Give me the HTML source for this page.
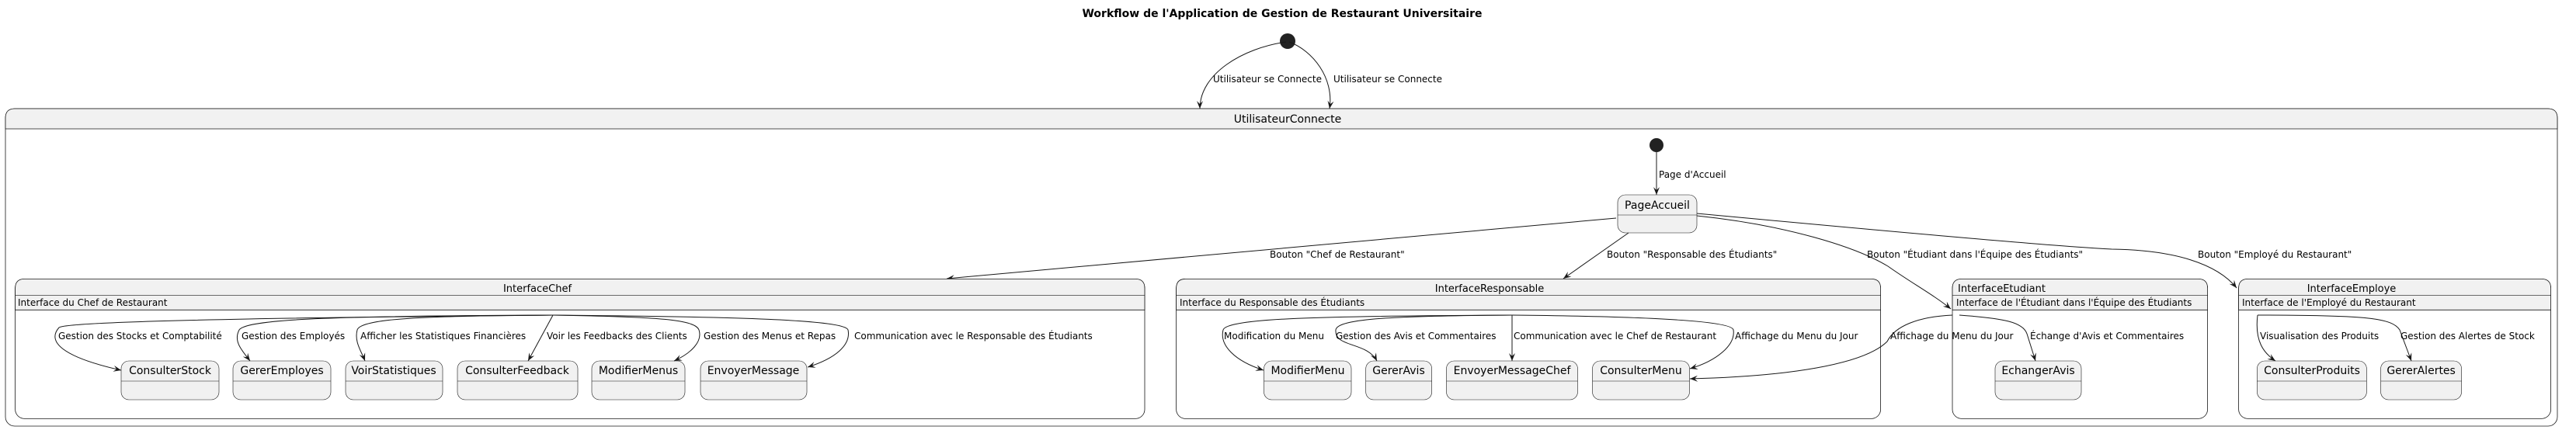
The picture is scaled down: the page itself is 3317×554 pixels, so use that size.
<!DOCTYPE html>
<html><head><meta charset="utf-8"><style>
html,body{margin:0;padding:0;background:#fff;}
svg{display:block;font-family:"DejaVu Sans","Liberation Sans",sans-serif;}
.st{fill:#F1F1F1;stroke:#181818;stroke-width:0.6;}
.ln{stroke:#181818;stroke-width:0.6;fill:none;}
.e{stroke:#181818;stroke-width:1;fill:none;marker-end:url(#ar);}
.lb{font-size:12px;fill:#000;}
.sn{font-size:14px;fill:#000;text-anchor:middle;}
</style></head><body>
<svg width="3317" height="554" viewBox="0 0 3317 554" xmlns="http://www.w3.org/2000/svg">
<defs><marker id="ar" markerWidth="12" markerHeight="10" refX="10" refY="4" orient="auto" markerUnits="userSpaceOnUse"><path d="M0,0 L10,4 L0,8 L4,4 Z" fill="#181818"/></marker></defs>

<text x="1651" y="22" text-anchor="middle" font-size="14" font-weight="bold">Workflow de l'Application de Gestion de Restaurant Universitaire</text>

<circle cx="1658" cy="53" r="10" fill="#222"/>
<path class="e" d="M1656,54 C1600,62 1545,95 1545,140"/>
<path class="e" d="M1660,54 C1690,65 1718,100 1712,140"/>
<text class="lb" x="1562" y="106">Utilisateur se Connecte</text>
<text class="lb" x="1717" y="106">Utilisateur se Connecte</text>

<!-- outer -->
<rect x="7" y="140" width="3286" height="409" rx="12" fill="#fff" stroke="#181818" stroke-width="0.8"/>
<path d="M7,166 L7,152 Q7,140 19,140 L3281,140 Q3293,140 3293,152 L3293,166 Z" fill="#F1F1F1" stroke="#181818" stroke-width="0.8"/>
<text class="sn" x="1658" y="158">UtilisateurConnecte</text>

<circle cx="2133" cy="187" r="9" fill="#222"/>
<path class="e" d="M2133,196 L2133,251"/>
<text class="lb" x="2136" y="229">Page d'Accueil</text>
<rect class="st" x="2083" y="251" width="102" height="49" rx="10"/>
<line class="ln" x1="2083" y1="277" x2="2185" y2="277"/>
<text class="sn" x="2134" y="269">PageAccueil</text>

<path class="e" d="M2081,281 L1219,359"/>
<text class="lb" x="1635" y="332">Bouton "Chef de Restaurant"</text>
<path class="e" d="M2097,300 L2013,359"/>
<text class="lb" x="2069" y="332">Bouton "Responsable des Étudiants"</text>
<path class="e" d="M2185,278 C2300,290 2390,318 2431,343 C2462,365 2490,380 2512,398"/>
<text class="lb" x="2404" y="332">Bouton "Étudiant dans l'Équipe des Étudiants"</text>
<path class="e" d="M2185,275 C2400,295 2650,318 2719,321 C2800,322 2855,340 2880,371"/>
<text class="lb" x="2830" y="332">Bouton "Employé du Restaurant"</text>

<!-- InterfaceChef -->
<rect x="19.6" y="359.4" width="1454.4" height="180" rx="12" fill="#fff" stroke="#181818" stroke-width="0.8"/>
<path d="M19.6,399.3 L19.6,371.4 Q19.6,359.4 31.6,359.4 L1462,359.4 Q1474,359.4 1474,371.4 L1474,399.3 Z" fill="#F1F1F1" stroke="#181818" stroke-width="0.8"/>
<line class="ln" x1="19.6" y1="380.6" x2="1474" y2="380.6"/>
<text class="sn" x="692" y="376" style="font-size:13px">InterfaceChef</text>
<text class="lb" x="23" y="394">Interface du Chef de Restaurant</text>

<rect class="st" x="156" y="465" width="126" height="50" rx="10"/><line class="ln" x1="156" y1="491" x2="282" y2="491"/><text class="sn" x="219" y="482">ConsulterStock</text>
<rect class="st" x="300" y="465" width="126" height="50" rx="10"/><line class="ln" x1="300" y1="491" x2="426" y2="491"/><text class="sn" x="363" y="482">GererEmployes</text>
<rect class="st" x="445" y="465" width="125" height="50" rx="10"/><line class="ln" x1="445" y1="491" x2="570" y2="491"/><text class="sn" x="507" y="482">VoirStatistiques</text>
<rect class="st" x="589" y="465" width="155" height="50" rx="10"/><line class="ln" x1="589" y1="491" x2="744" y2="491"/><text class="sn" x="666" y="482">ConsulterFeedback</text>
<rect class="st" x="762" y="465" width="120" height="50" rx="10"/><line class="ln" x1="762" y1="491" x2="882" y2="491"/><text class="sn" x="822" y="482">ModifierMenus</text>
<rect class="st" x="902" y="465" width="137" height="50" rx="10"/><line class="ln" x1="902" y1="491" x2="1039" y2="491"/><text class="sn" x="970" y="482">EnvoyerMessage</text>

<path class="e" d="M712,406 C500,408 90,412 76,422 C60,440 80,460 156,477"/>
<path class="e" d="M712,406 C450,407 318,410 308,425 C300,440 312,452 322,465"/>
<path class="e" d="M712,406 C550,407 465,410 460,425 C456,440 465,452 470,465"/>
<path class="e" d="M712,406 L680,465"/>
<path class="e" d="M712,406 C850,408 895,412 900,425 C905,440 890,455 868,465"/>
<path class="e" d="M712,406 C950,408 1088,412 1092,425 C1096,445 1075,462 1040,473"/>
<text class="lb" x="75" y="437">Gestion des Stocks et Comptabilité</text>
<text class="lb" x="311" y="437">Gestion des Employés</text>
<text class="lb" x="464" y="437">Afficher les Statistiques Financières</text>
<text class="lb" x="704" y="437">Voir les Feedbacks des Clients</text>
<text class="lb" x="906" y="437">Gestion des Menus et Repas</text>
<text class="lb" x="1100" y="437">Communication avec le Responsable des Étudiants</text>

<!-- InterfaceResponsable -->
<rect x="1514.6" y="359.4" width="907" height="180" rx="12" fill="#fff" stroke="#181818" stroke-width="0.8"/>
<path d="M1514.6,399.3 L1514.6,371.4 Q1514.6,359.4 1526.6,359.4 L2409.6,359.4 Q2421.6,359.4 2421.6,371.4 L2421.6,399.3 Z" fill="#F1F1F1" stroke="#181818" stroke-width="0.8"/>
<line class="ln" x1="1514.6" y1="380.6" x2="2421.6" y2="380.6"/>
<text class="sn" x="1918" y="376" style="font-size:13px">InterfaceResponsable</text>
<text class="lb" x="1519" y="394">Interface du Responsable des Étudiants</text>

<rect class="st" x="1627.5" y="465" width="112.5" height="50" rx="10"/><line class="ln" x1="1627.5" y1="491" x2="1740" y2="491"/><text class="sn" x="1684" y="482">ModifierMenu</text>
<rect class="st" x="1758.7" y="465" width="85" height="50" rx="10"/><line class="ln" x1="1758.7" y1="491" x2="1843.7" y2="491"/><text class="sn" x="1801" y="482">GererAvis</text>
<rect class="st" x="1862.5" y="465" width="169" height="50" rx="10"/><line class="ln" x1="1862.5" y1="491" x2="2031.5" y2="491"/><text class="sn" x="1947" y="482">EnvoyerMessageChef</text>
<rect class="st" x="2050.5" y="465" width="125" height="50" rx="10"/><line class="ln" x1="2050.5" y1="491" x2="2175.5" y2="491"/><text class="sn" x="2113" y="482">ConsulterMenu</text>

<path class="e" d="M1947,406 C1700,407 1580,410 1575,425 C1570,445 1590,465 1627,477"/>
<path class="e" d="M1947,406 C1800,407 1722,410 1720,425 C1718,448 1760,440 1773,465"/>
<path class="e" d="M1947,406 L1947,465"/>
<path class="e" d="M1947,406 C2150,408 2230,415 2232,425 C2235,445 2210,465 2176,475"/>
<text class="lb" x="1576" y="437">Modification du Menu</text>
<text class="lb" x="1720" y="437">Gestion des Avis et Commentaires</text>
<text class="lb" x="1949" y="437">Communication avec le Chef de Restaurant</text>
<text class="lb" x="2234" y="437">Affichage du Menu du Jour</text>

<!-- InterfaceEtudiant -->
<rect x="2514" y="359.4" width="328.6" height="180" rx="12" fill="#fff" stroke="#181818" stroke-width="0.8"/>
<path d="M2514,399.3 L2514,371.4 Q2514,359.4 2526,359.4 L2830.6,359.4 Q2842.6,359.4 2842.6,371.4 L2842.6,399.3 Z" fill="#F1F1F1" stroke="#181818" stroke-width="0.8"/>
<line class="ln" x1="2514" y1="380.6" x2="2842.6" y2="380.6"/>
<text x="2521" y="376" font-size="13">InterfaceEtudiant</text>
<text class="lb" x="2519" y="394">Interface de l'Étudiant dans l'Équipe des Étudiants</text>
<rect class="st" x="2569" y="465" width="111" height="50" rx="10"/><line class="ln" x1="2569" y1="491" x2="2680" y2="491"/><text class="sn" x="2624.5" y="482">EchangerAvis</text>
<path class="e" d="M2523,406 C2580,410 2605,415 2610,430 L2621,465"/>
<text class="lb" x="2614" y="437">Échange d'Avis et Commentaires</text>

<!-- InterfaceEmploye -->
<rect x="2882.6" y="359.4" width="402" height="180" rx="12" fill="#fff" stroke="#181818" stroke-width="0.8"/>
<path d="M2882.6,399.3 L2882.6,371.4 Q2882.6,359.4 2894.6,359.4 L3272.6,359.4 Q3284.6,359.4 3284.6,371.4 L3284.6,399.3 Z" fill="#F1F1F1" stroke="#181818" stroke-width="0.8"/>
<line class="ln" x1="2882.6" y1="380.6" x2="3284.6" y2="380.6"/>
<text class="sn" x="3028" y="376" style="font-size:13px">InterfaceEmploye</text>
<text class="lb" x="2887" y="394">Interface de l'Employé du Restaurant</text>
<rect class="st" x="2906.4" y="465" width="141" height="50" rx="10"/><line class="ln" x1="2906.4" y1="491" x2="3047.4" y2="491"/><text class="sn" x="2977" y="482">ConsulterProduits</text>
<rect class="st" x="3065.6" y="465" width="104" height="50" rx="10"/><line class="ln" x1="3065.6" y1="491" x2="3169.6" y2="491"/><text class="sn" x="3117.6" y="482">GererAlertes</text>
<path class="e" d="M2907,406 C2903,440 2915,455 2930,465"/>
<path class="e" d="M2907,406 C3050,406 3080,410 3090,425 L3105,465"/>
<text class="lb" x="2910" y="437">Visualisation des Produits</text>
<text class="lb" x="3091" y="437">Gestion des Alertes de Stock</text>

<!-- cross-container edge drawn last -->
<path class="e" d="M2514,406 C2470,408 2440,420 2430,440 C2400,470 2300,485 2176,488"/>
<text class="lb" x="2434" y="437">Affichage du Menu du Jour</text>
</svg>
</body></html>
